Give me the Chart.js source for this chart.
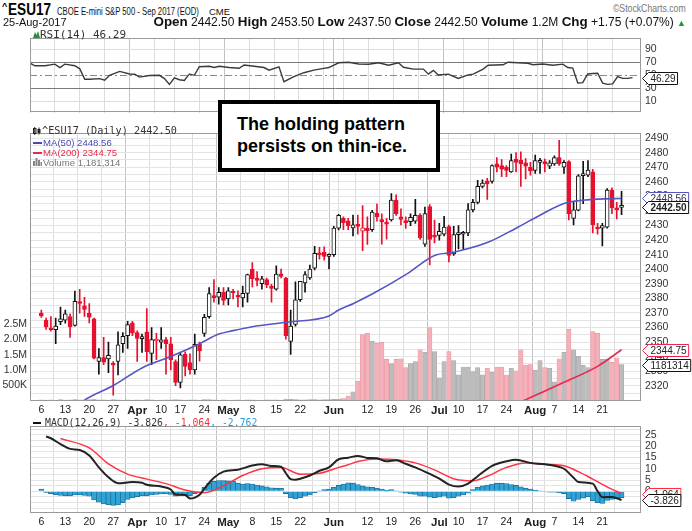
<!DOCTYPE html>
<html><head><meta charset="utf-8">
<script src="https://cdn.jsdelivr.net/npm/chart.js@4.4.1/dist/chart.umd.min.js"></script>
<style>
html,body{margin:0;padding:0;background:#fff;}
body{width:692px;height:531px;overflow:hidden;position:relative;font-family:'Liberation Sans',Arial,sans-serif;}
.abs{position:absolute;white-space:nowrap;}
.nar{font-family:'Liberation Sans Narrow','Liberation Sans',Arial,sans-serif;}
.mono{font-family:'DejaVu Sans Mono',monospace;}
.box{position:absolute;left:0;width:692px;}
</style></head><body>

<div class="box" style="top:28px;height:95px;"><canvas id="rsi"></canvas></div>
<div class="box" style="top:123px;height:293px;"><canvas id="main"></canvas></div>
<div class="box" style="top:416px;height:115px;"><canvas id="macd"></canvas></div>

<!-- header -->
<div class="abs" style="left:2px;top:1px;font-size:9px;font-weight:bold;color:#000;">^</div>
<div class="abs nar" style="left:8px;top:0px;font-size:17px;line-height:20px;font-weight:bold;color:#000;transform:scaleX(0.8);transform-origin:0 0;">ESU17</div>
<div class="abs nar" style="left:57px;top:4px;font-size:11px;line-height:14px;color:#111;transform:scaleX(0.7);transform-origin:0 0;">CBOE E-mini S&amp;P 500 - Sep 2017 (EOD)</div>
<div class="abs nar" style="left:209px;top:6px;font-size:9.5px;line-height:12px;color:#111;">CME</div>
<div class="abs nar" style="right:6px;top:2px;font-size:10.5px;line-height:13px;color:#777;transform:scaleX(0.83);transform-origin:100% 0;">©StockCharts.com</div>
<div class="abs nar" style="left:3px;top:15px;font-size:11px;line-height:14px;color:#111;">25-Aug-2017</div>
<div class="abs nar" style="right:6px;top:15px;font-size:12px;line-height:14px;color:#111;">
<b style="font-size:13.4px">Open</b> 2442.50 <b style="font-size:13.4px">High</b> 2453.50 <b style="font-size:13.4px">Low</b> 2437.50 <b style="font-size:13.4px">Close</b> 2442.50 <b style="font-size:13.4px">Volume</b> 1.2M <b style="font-size:13.4px">Chg</b> +1.75 (+0.07%) <span style="color:#1a9a2a;font-size:9px">▲</span></div>

<!-- RSI legend -->
<svg class="abs" style="left:33px;top:31px" width="7" height="7"><path d="M0 7 L2 1 L3.5 4 L5 0 L7 7 Z" fill="#2e8b3a"/></svg>
<div class="abs mono" style="left:40px;top:28px;font-size:11px;line-height:14px;color:#333;">RSI(14) 46.29</div>

<!-- main legend -->
<svg class="abs" style="left:33px;top:127px" width="8" height="8"><rect x="0.5" y="1.5" width="2.5" height="5" fill="#fff" stroke="#222" stroke-width="1"/><line x1="1.75" y1="0" x2="1.75" y2="8" stroke="#222"/><rect x="4.5" y="2" width="3" height="4" fill="#222"/><line x1="6" y1="0.5" x2="6" y2="7.5" stroke="#222"/></svg>
<div class="abs mono" style="left:42px;top:125px;font-size:10.2px;line-height:12px;color:#333;">^ESU17 (Daily) 2442.50</div>
<div class="abs" style="left:33px;top:141.5px;width:9px;height:2px;background:#4a4ab4;"></div>
<div class="abs" style="left:43px;top:136.5px;font-size:9.6px;line-height:12px;color:#4a4ab4;">MA(50) 2448.56</div>
<div class="abs" style="left:33px;top:151.5px;width:9px;height:2px;background:#e8284f;"></div>
<div class="abs" style="left:43px;top:146.5px;font-size:9.6px;line-height:12px;color:#e8284f;">MA(200) 2344.75</div>
<svg class="abs" style="left:33px;top:158px" width="9" height="8"><rect x="0" y="3" width="2" height="5" fill="#888"/><rect x="2.5" y="0" width="2" height="8" fill="#888"/><rect x="5" y="2" width="2" height="6" fill="#888"/><rect x="7.5" y="4" width="1.5" height="4" fill="#888"/></svg>
<div class="abs" style="left:43px;top:157px;font-size:9.6px;line-height:12px;color:#777;">Volume 1,181,314</div>

<!-- MACD legend -->
<div class="abs" style="left:33px;top:421.5px;width:8px;height:2px;background:#111;"></div>
<div class="abs mono" style="left:45px;top:416.5px;font-size:9.8px;line-height:12px;color:#333;">MACD(12,26,9) -3.826<span style="color:#ff2a3a">, -1.064</span><span style="color:#2a9fd6">, -2.762</span></div>

<!-- annotation -->
<div class="abs" style="left:218px;top:100px;width:214px;height:64px;border:4px solid #000;background:#fff;box-sizing:content-box;">
<div style="padding-left:15px;padding-top:9px;font-weight:bold;font-size:18px;line-height:22px;color:#000;">The holding pattern<br>persists on thin-ice.</div>
</div>

<script>
// ---------------- data ----------------
// trading-day index 0 = 6-Mar-2017 ... 121 = 25-Aug-2017
const tickDays   = [0,5,10,15,20,25,29,34,39,44,49,54,59,61,63,68,73,78,83,87,92,97,102,103,107,112,117];
const tickLabels = ['6','13','20','27','Apr','10','17','24','May','8','15','22','','Jun','','12','19','26','Jul','10','17','24','','Aug','7','14','21'];
const monthLabels = ['Apr','May','Jun','Jul','Aug'];

const opens = [
2370,2365,2359.5,2358.6,2364,2365,2367.6,2361.5,2377.5,2374.9,
2369.8,2366,2336.7,2339.4,2338.5,2334.5,2336.7,2348.9,2354.4,2363.2,
2356.6,2352.4,2357,2342.3,2350.8,2350,2351.7,2348.9,2336.7,2322.4,
2341.6,2336,2331,2348.5,2356,2367.5,2381.5,2380.8,2384.1,2379.7,
2384.8,2381.5,2380.4,2383.5,2400,2394,2390.1,2393,2388.5,2386.3,
2396.9,2394,2350.4,2362.1,2379.1,2390.7,2394,2400.7,2411.2,2411.7,
2408.8,2410,2428.2,2434.9,2433.3,2428.3,2430.5,2426.1,2428.3,2427.2,
2438.6,2433.7,2432,2433.8,2447.5,2436,2433,2432.7,2433,2437.1,
2417.3,2443,2423,2423.2,2424,2429.3,2410.6,2423.8,2424,2425,
2440.8,2445.9,2456.9,2460.6,2460.2,2472.3,2471.2,2470.1,2466.8,2475.6,
2475,2473,2470.1,2467.9,2473.4,2473.9,2470.8,2472.3,2476.7,2470.1,
2473.9,2434.9,2440.6,2464.2,2464.6,2466.8,2428.6,2428.2,2428.9,2454.3,
2442.1,2442.5];
const highs = [
2372,2366.5,2367.5,2366.5,2374,2372,2369.4,2385,2386.3,2380.8,
2376.4,2366.5,2345.6,2353.3,2350,2336.7,2357,2356.6,2364.3,2364.3,
2357.7,2355.5,2373,2359.9,2356,2359.9,2353.3,2353.3,2337.8,2342.3,
2343.4,2342,2355.5,2350,2369,2387.4,2393,2387.4,2387.4,2387.4,
2386.3,2385.2,2388.5,2396.7,2404.6,2398.4,2395.1,2394,2389.6,2402.4,
2400.2,2394.4,2372,2391.4,2391.8,2398.4,2402.9,2415.7,2415,2415.4,
2410.6,2429.4,2437.7,2436,2434.9,2437.1,2437.1,2443.7,2436,2440.4,
2444.8,2438,2434.9,2452,2451,2441.5,2436,2438,2448,2438.2,
2442.6,2444.4,2433.8,2431.5,2436.4,2430.4,2429.4,2430,2426,2445,
2448,2461,2461.3,2462.4,2471.7,2476.7,2475.2,2471.2,2479,2480,
2480.5,2476,2473.4,2478.3,2476.1,2475.6,2474.5,2477.8,2488.4,2474.5,
2474.5,2445.9,2465,2474,2474.5,2468.6,2431.5,2431.5,2455.3,2455.8,
2446,2453.5];
const lows = [
2367,2358.8,2357.5,2349,2362,2363,2353.3,2361,2369.8,2367.6,
2363.2,2338.5,2328,2334.5,2329,2313.6,2327.5,2343,2345.6,2354.4,
2336.7,2343,2336.7,2334.5,2338,2345.6,2328,2331,2320.2,2318.5,
2326.8,2328,2328,2337,2354,2366.5,2377.5,2376,2375.5,2375.5,
2379.7,2374.2,2374.2,2377.5,2387.9,2388.5,2386.3,2387.4,2377.5,2385.7,
2394,2352,2341.6,2361,2378,2384.2,2393,2399.6,2407,2406.2,
2400.2,2408.8,2427,2427.2,2427.2,2422.8,2424,2412.8,2417,2426,
2433,2417.2,2420.6,2433,2437,2430.4,2428,2430,2431.5,2420.5,
2415.7,2403,2418,2420,2422.8,2405,2409.5,2414,2414,2423,
2439.3,2444.8,2455.8,2448,2459,2466.8,2463.5,2463.5,2466.4,2466.8,
2456.9,2462,2464.6,2465.7,2465.7,2466.8,2469,2471.2,2471.2,2465.7,
2433.8,2430.4,2440,2445,2463.5,2425,2424,2416.1,2428.2,2438.2,
2434.5,2437.5];
const closes = [
2368,2360.5,2358.5,2361,2366,2369.5,2360.5,2378,2376.5,2372.5,
2367.2,2339,2339.4,2336.3,2340.9,2334.2,2348.2,2354,2362,2356.1,
2352.6,2353.5,2343.4,2351.7,2351.5,2351.5,2348.9,2337.8,2322.4,2341.2,
2333.4,2331,2348.5,2344,2367,2383.3,2380.5,2384.1,2378.6,2385.2,
2383.7,2380.8,2383.5,2396.3,2393.6,2392.3,2393.4,2389.2,2386.8,2396.7,
2395.1,2354.4,2361,2379.1,2391.8,2396.3,2400.2,2411,2409.9,2408.8,
2409,2428.2,2437,2432,2429.8,2430.5,2429.4,2428.4,2426.5,2439.3,
2436,2432.7,2431,2447.5,2438.2,2434.2,2432,2435.6,2437,2421.7,
2438.2,2420.5,2422,2426,2429,2409.5,2423.8,2425,2425.3,2440.8,
2445.9,2456.9,2459.1,2458.6,2471.2,2470.1,2468.6,2467.9,2474.5,2473.4,
2472.3,2470.8,2467.5,2474.5,2474.8,2472.3,2473,2476.7,2472.3,2473.4,
2438.2,2440.8,2464.2,2465.7,2468,2430.4,2427.6,2430,2454.3,2442.1,
2440.75,2442.5];
const volumes = [
40000,30000,35000,25000,45000,30000,40000,50000,35000,30000,
45000,60000,40000,35000,30000,50000,40000,30000,35000,30000,
40000,30000,45000,35000,25000,30000,35000,40000,45000,35000,
30000,35000,40000,30000,50000,45000,35000,30000,35000,30000,
30000,35000,30000,40000,35000,30000,30000,35000,40000,35000,
30000,60000,55000,45000,35000,40000,45000,50000,40000,45000,
50000,60000,55000,80000,170000,300000,640000,2150000,2200000,1940000,
1870000,1900000,1350000,1210000,1350000,1370000,1080000,1210000,1280000,1660000,
1580000,2380000,1600000,750000,1280000,1600000,1310000,850000,1100000,1100000,
950000,1080000,850000,1060000,930000,1100000,1100000,840000,1060000,980000,
1660000,1160000,1180000,1000000,1310000,1080000,1060000,620000,1370000,1580000,
2330000,1660000,1450000,1160000,1080000,2250000,2200000,1350000,1370000,1250000,
1400000,1181314];

const ma50Days   = [7,9,15,21,27,33,37,40,44,51,60,62,65,69,76,82,86,93,99,104,109,116,121];
const ma50Values = [2305,2310.2,2320.2,2332.3,2340.1,2348.9,2355.5,2357.9,2360.6,2363.6,2368,2372,2376.4,2383,2396.3,2409.5,2411.7,2418.3,2428.2,2437.1,2445.2,2448.1,2448.56];
const ma200Days   = [98,101,109,116,121];
const ma200Values = [2306.5,2310.5,2322.4,2333.4,2344.75];

const rsiDays = [0,1,3,5,6,7,9,10,11,12,14,15,16,18,20,21,22,24,26,27,28,29,30,31,32,33,34,36,37,38,40,42,43,45,47,48,50,51,53,55,57,59,60,62,64,66,68,70,72,74,75,77,79,80,81,82,84,86,88,89,91,92,95,96,98,100,101,103,105,107,108,109,110,111,112,113,114,115,116,117,118,119,120,121];
const rsiValues = [68.6,64.5,64.6,67,61.8,67,64.6,59.8,43.8,43.8,44.7,42.3,49.8,55.8,51.9,51.5,47,49.4,49.8,44.7,35.8,45.9,43,41.8,51.9,49.8,63,63.8,61.8,63.8,61.8,60.6,65.7,63.8,61.8,57.8,63,40,47.8,53.8,57.8,60.6,61.8,69.2,70,67.3,66.9,69.2,65.3,69.2,62.2,59.4,59.4,51.6,57.5,50.4,51.6,44.9,50.4,51.6,59.4,65.3,66.1,70,69.2,68.4,66.1,67.3,65.3,67,61.8,61,37.8,38.5,51.9,52.5,53,37.8,35.8,36.6,47.8,45,45,46.29];

const macdDays   = [1,2,4,6,8,10,12,14,16,19,21,22,25,27,28,30,31,33,34,36,38,41,44,46,48,50,51,52,53,54,56,58,60,62,64,66,68,70,72,74,76,78,81,83,85,87,89,91,94,97,99,102,105,107,109,111,112,115,116,117,119,121];
const macdValues = [24.3,23.5,20.9,18.8,18.3,15.9,10.6,6.2,3.6,4.1,3.8,2.9,2.1,0.8,-1.4,-1.6,-3.2,-1.5,1.2,6,8.7,9.6,11.4,12,11.2,10.9,8,5.4,5.1,5.6,7,9.1,10.6,14.2,14.9,15.7,14.8,14.6,13.3,13.8,12.2,10.6,7.7,5.6,3,2.1,3.4,6.7,11.3,13.3,14,12.6,12,11.3,10,6,4.1,3.4,0.1,-2.6,-2.5,-3.826];
const signalDays   = [4,10,14,18,22,26,30,34,38,42,46,50,54,58,62,64,66,70,74,78,82,86,90,93,97,101,105,109,112,115,118,121];
const signalValues = [23.4,19.2,12.2,7.6,5.4,3.4,0.6,-0.6,2.5,7,10,10.6,7.6,8,10.6,11.8,13.2,14.3,14,12.6,9.5,5.6,4.7,6.7,10.6,12.6,12,11.3,8.7,5.4,2,-1.064];
const histValues = [
1.0,-0.5,-1.0,-1.5,-1.8,-2.0,-2.0,-1.6,-1.6,-1.8,
-2.2,-3.8,-4.8,-5.6,-5.9,-6.2,-6.0,-5.0,-3.6,-2.8,
-2.4,-2.0,-2.0,-1.6,-1.4,-1.2,-1.2,-1.4,-2.2,-1.8,
-1.6,-2.0,-1.0,-0.4,1.8,3.6,4.4,4.8,4.8,4.6,
4.4,3.6,3.2,3.4,3.2,2.8,2.4,2.0,1.6,1.4,
1.3,-1.0,-2.8,-3.4,-2.8,-2.2,-1.6,-0.6,0.2,0.8,
1.0,1.8,2.6,3.2,3.8,3.6,3.0,2.4,2.0,1.8,
1.4,1.0,0.6,0.8,0.2,-0.4,-0.8,-1.2,-1.4,-2.2,
-2.2,-2.6,-2.8,-2.6,-2.2,-3.0,-2.8,-2.2,-1.6,-0.8,
0.8,1.8,2.4,2.8,3.2,3.6,3.6,3.4,3.0,2.6,
2.0,1.4,1.0,0.6,0.2,-0.2,-0.4,-0.4,-0.6,-1.0,
-3.2,-4.4,-3.6,-3.0,-2.4,-4.2,-5.0,-5.4,-4.0,-3.6,
-3.2,-2.762];

const priceTicks = [2310,2315,2320,2325,2330,2335,2340,2345,2350,2355,2360,2365,2370,2375,2380,2385,2390,2395,2400,2405,2410,2415,2420,2425,2430,2435,2440,2445,2450,2455,2460,2465,2470,2475,2480,2485,2490];
const volTicks = [500000,1000000,1500000,2000000,2500000];
const volTickLabels = ['500K','1.0M','1.5M','2.0M','2.5M'];
const rsiTicks = [10,30,50,70,90];
const macdTicks = [-7.5,-5,-2.5,0,2.5,5,7.5,10,12.5,15,17.5,20,22.5,25,27.5];

// ---------------- styling ----------------
const FONT = "'Liberation Sans', Arial, sans-serif";
const RED = '#e8102e', BLACK = '#111';
const X_MIN = 0, X_MAX = 122.7;
const days = opens.map((_, i) => i);
const pts = (d, v) => d.map((x, k) => ({x: x, y: v[k]}));
const tickLabelOf = v => { const k = tickDays.indexOf(v); return k < 0 ? '' : tickLabels[k]; };
const isMonth = v => monthLabels.includes(tickLabelOf(v));

function xAxis(showLabels, h) {
  return {
    type: 'linear', position: 'bottom', min: X_MIN, max: X_MAX,
    afterBuildTicks: s => { s.ticks = tickDays.map(v => ({value: v})); },
    afterFit: s => { s.height = h; },
    grid: { color: c => (c.tick && isMonth(c.tick.value)) ? '#c2c2c2' : '#dddddd', drawTicks: false, lineWidth: 1 },
    border: { display: false },
    ticks: {
      display: showLabels, autoSkip: false, maxRotation: 0, minRotation: 0, padding: 3, color: '#222',
      font: c => (c.tick && isMonth(c.tick.value)) ? {family: FONT, size: 11.5, weight: 'bold'} : {family: FONT, size: 10.5},
      callback: v => tickLabelOf(v)
    }
  };
}

function rightAxis(min, max, ticks, labelFn, gridColor) {
  return {
    position: 'right', min: min, max: max,
    afterBuildTicks: s => { s.ticks = ticks.map(v => ({value: v})); },
    afterFit: s => { s.width = 51; },
    grid: { color: gridColor, drawTicks: false, lineWidth: 1 },
    border: { display: false },
    ticks: { padding: 4, color: '#333', font: {family: FONT, size: 10.5}, callback: labelFn, autoSkip: false }
  };
}

const frame = {
  id: 'frame',
  afterDatasetsDraw(chart) {
    const a = chart.chartArea, ctx = chart.ctx;
    ctx.save(); ctx.strokeStyle = '#9a9a9a'; ctx.lineWidth = 1;
    ctx.strokeRect(Math.round(a.left) + 0.5, Math.round(a.top) + 0.5, Math.round(a.right - a.left) - 1, Math.round(a.bottom - a.top) - 1);
    ctx.restore();
  }
};

function tagPlugin(tags) {
  return {
    id: 'tags',
    afterDraw(chart) {
      const ctx = chart.ctx, a = chart.chartArea;
      tags.forEach(t => {
        const y = Math.round(chart.scales[t.axis].getPixelForValue(t.value)) + 0.5;
        ctx.save();
        ctx.font = (t.bold ? 'bold ' : '') + '10px ' + FONT;
        const w = ctx.measureText(t.text).width;
        const x0 = a.right + 1.5, x1 = x0 + 6, x2 = x1 + w + 4;
        ctx.beginPath();
        ctx.moveTo(x0, y); ctx.lineTo(x1, y - 6); ctx.lineTo(x2, y - 6); ctx.lineTo(x2, y + 6); ctx.lineTo(x1, y + 6); ctx.closePath();
        ctx.fillStyle = '#fff'; ctx.fill();
        ctx.strokeStyle = t.color; ctx.lineWidth = 1; ctx.stroke();
        ctx.fillStyle = t.textColor || '#222'; ctx.textBaseline = 'middle'; ctx.textAlign = 'left';
        ctx.fillText(t.text, x1 + 2, y + 0.5);
        ctx.restore();
      });
    }
  };
}

const baseOpts = (pad) => ({
  responsive: true, maintainAspectRatio: false, animation: false, events: [],
  layout: { padding: {left: pad, right: 0, top: 0, bottom: 0} },
  plugins: { legend: {display: false}, tooltip: {enabled: false} }
});

// ---------------- RSI ----------------
const rsiDash = {
  id: 'rsiDash',
  beforeDatasetsDraw(chart) {
    const a = chart.chartArea, ctx = chart.ctx, y = Math.round(chart.scales.y.getPixelForValue(50)) + 0.5;
    ctx.save(); ctx.strokeStyle = '#8a8a8a'; ctx.lineWidth = 1; ctx.setLineDash([7, 3, 2, 3]);
    ctx.beginPath(); ctx.moveTo(a.left, y); ctx.lineTo(a.right, y); ctx.stroke(); ctx.restore();
  }
};
new Chart(document.getElementById('rsi'), {
  type: 'line',
  data: { datasets: [{ data: pts(rsiDays, rsiValues), borderColor: '#3a3a3a', borderWidth: 1.4, pointRadius: 0, tension: 0 }] },
  options: Object.assign(baseOpts(30), {
    scales: {
      x: xAxis(false, 0),
      y: rightAxis(-8, 107, rsiTicks, v => String(v),
        c => (c.tick.value === 30 || c.tick.value === 70) ? '#7a7a7a' : (c.tick.value === 50 ? 'rgba(0,0,0,0)' : '#dddddd'))
    }
  }),
  plugins: [rsiDash, frame, tagPlugin([{axis: 'y', value: 46.29, text: '46.29', color: '#111'}])]
});

// ---------------- main ----------------
const downPrev = i => i > 0 ? closes[i] < closes[i - 1] : closes[i] < opens[i];
const candleLine = i => (closes[i] < opens[i] || downPrev(i)) ? RED : BLACK;
const candleFill = i => closes[i] < opens[i] ? RED : '#ffffff';

new Chart(document.getElementById('main'), {
  data: {
    datasets: [
      { type: 'line', data: pts(ma50Days, ma50Values), borderColor: '#5656c2', borderWidth: 1.6, pointRadius: 0, cubicInterpolationMode: 'monotone', yAxisID: 'y', order: 1 },
      { type: 'line', data: pts(ma200Days, ma200Values), borderColor: '#e8284f', borderWidth: 1.6, pointRadius: 0, cubicInterpolationMode: 'monotone', yAxisID: 'y', order: 2 },
      { type: 'bar', data: days.map(i => ({x: i, y: [opens[i], closes[i]]})), yAxisID: 'y', grouped: false, barThickness: 4,
        backgroundColor: days.map(candleFill), borderColor: days.map(candleLine), borderWidth: 1, borderSkipped: false, minBarLength: 2, order: 3 },
      { type: 'bar', data: days.map(i => ({x: i, y: [lows[i], highs[i]]})), yAxisID: 'y', grouped: false, barThickness: 1,
        backgroundColor: days.map(candleLine), borderWidth: 0, order: 4 },
      { type: 'bar', data: days.map(i => ({x: i, y: volumes[i]})), yAxisID: 'yVol', grouped: false, barThickness: 4.4,
        backgroundColor: days.map(i => downPrev(i) ? '#f4b1ba' : '#bcbcbc'),
        borderColor: days.map(i => downPrev(i) ? '#ea94a0' : '#a6a6a6'), borderWidth: {left: 0.6, right: 0.6, top: 0.6, bottom: 0}, order: 10 }
    ]
  },
  options: Object.assign(baseOpts(0), {
    scales: {
      x: xAxis(true, 15),
      y: rightAxis(2309.6, 2493.3, priceTicks, v => (v % 10 === 0 && v >= 2320) ? String(v) : '', () => '#e4e4e4'),
      yVol: {
        position: 'left', min: 0, max: 8680000,
        afterBuildTicks: s => { s.ticks = volTicks.map(v => ({value: v})); },
        afterFit: s => { s.width = 30; },
        grid: { display: false, drawTicks: false },
        border: { display: false },
        ticks: { padding: 3, color: '#333', font: {family: FONT, size: 10.5}, autoSkip: false,
          callback: v => volTickLabels[volTicks.indexOf(v)] }
      }
    }
  }),
  plugins: [frame, tagPlugin([
    {axis: 'y', value: 2448.56, text: '2448.56', color: '#5656c2', textColor: '#334'},
    {axis: 'y', value: 2442.50, text: '2442.50', color: '#111', bold: true},
    {axis: 'y', value: 2344.75, text: '2344.75', color: '#e8284f'},
    {axis: 'yVol', value: 1181314, text: '1181314', color: '#111'}
  ])]
});

// ---------------- MACD ----------------
new Chart(document.getElementById('macd'), {
  data: {
    datasets: [
      { type: 'line', data: pts(macdDays, macdValues), borderColor: '#222', borderWidth: 2, pointRadius: 0, cubicInterpolationMode: 'monotone', order: 1 },
      { type: 'line', data: pts(signalDays, signalValues), borderColor: '#ff3344', borderWidth: 1.5, pointRadius: 0, cubicInterpolationMode: 'monotone', order: 2 },
      { type: 'bar', data: days.map(i => ({x: i, y: histValues[i]})), grouped: false, barThickness: 5,
        backgroundColor: '#31a3d6', borderColor: '#1d6f98', borderWidth: {left: 0.8, right: 0.8, top: 0.8, bottom: 0.8}, order: 3 }
    ]
  },
  options: Object.assign(baseOpts(30), {
    scales: {
      x: xAxis(true, 18),
      y: rightAxis(-9.6, 28.8, macdTicks, v => (v % 5 === 0) ? String(v) : '', () => '#e4e4e4')
    }
  }),
  plugins: [frame, tagPlugin([
    {axis: 'y', value: -1.064, text: '-1.064', color: '#ff2a3a'},
    {axis: 'y', value: -3.826, text: '-3.826', color: '#111'}
  ])]
});
</script>
</body></html>
